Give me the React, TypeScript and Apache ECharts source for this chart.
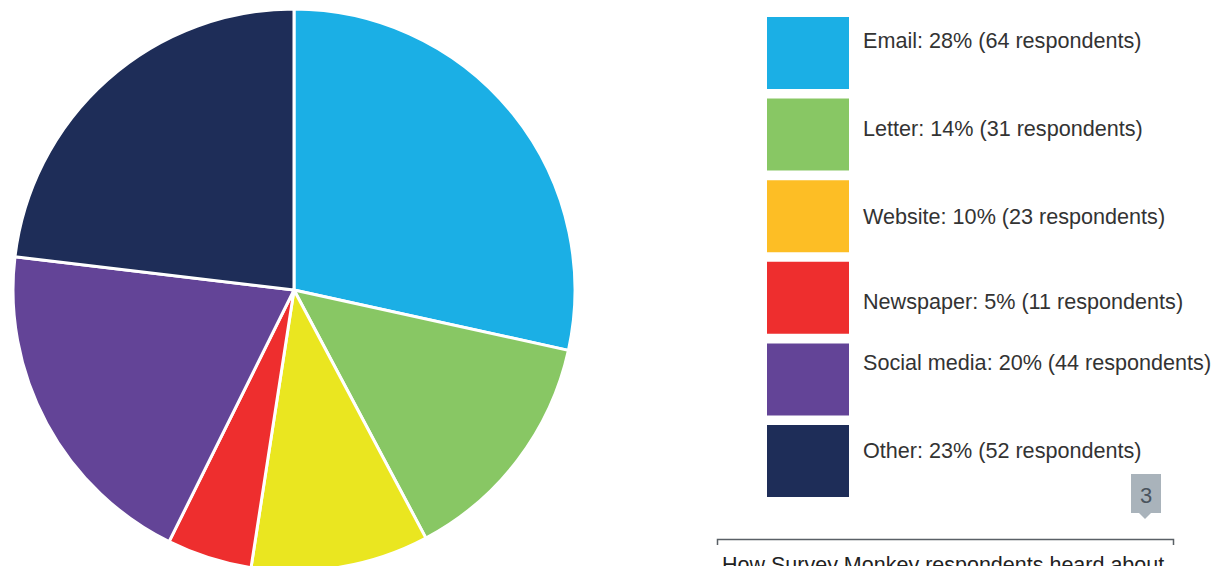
import React, { useEffect, useRef } from "react";
import * as echarts from "echarts";

const categories = ["Email", "Letter", "Website", "Newspaper", "Social media", "Other"];
const respondents = [64, 31, 23, 11, 44, 52];
const percents = [28, 14, 10, 5, 20, 23];
const sliceColors = ["#1BAFE5", "#88C764", "#EAE620", "#EE2E2E", "#634497", "#1E2D58"];
const legendColors = ["#1BAFE5", "#88C764", "#FDBE25", "#EE2E2E", "#634497", "#1E2D58"];
// vertical text shift (px, negative = up) of each legend label, as drawn in the reference
const labelShift = [-13, -6, 0, 4, -17, -11];
const badgeLabel = "3";
const captionText = "How Survey Monkey respondents heard about";

export default function App() {
  const ref = useRef<HTMLDivElement>(null);
  useEffect(() => {
    if (!ref.current) return;
    const chart = echarts.init(ref.current, undefined, { renderer: "svg" });
    const font = "'Liberation Sans', Arial, sans-serif";
    const data = categories.map((c, i) => ({
      name: c,
      value: respondents[i],
      itemStyle: { color: sliceColors[i] },
    }));
    const legendData = categories.map((c, i) => {
      const s = labelShift[i];
      const lh = Math.max(2 * Math.abs(s), 1);
      return {
        name: c,
        itemStyle: { color: legendColors[i] },
        textStyle: s === 0 ? {} : { lineHeight: lh },
      };
    });
    chart.setOption({
      animation: false,
      legend: {
        orient: "vertical",
        left: 760,
        top: 10,
        itemWidth: 84,
        itemHeight: 74,
        itemGap: 5.6,
        selectedMode: false,
        icon: "rect",
        data: legendData,
        formatter: (name: string) => {
          const i = categories.indexOf(name);
          const t = `${name}: ${percents[i]}% (${respondents[i]} respondents)`;
          const s = labelShift[i];
          if (s < 0) return t + "\n ";
          if (s > 0) return " \n" + t;
          return t;
        },
        textStyle: { fontFamily: font, fontSize: 21.6, color: "#333333", padding: [0, 0, 0, 8] },
      },
      series: [
        {
          type: "pie",
          center: [294, 290],
          radius: 281,
          startAngle: 90,
          clockwise: true,
          label: { show: false },
          labelLine: { show: false },
          emphasis: { disabled: true },
          itemStyle: { borderColor: "#ffffff", borderWidth: 3 },
          data,
        },
      ],
      graphic: [
        {
          type: "rect",
          shape: { x: 1131, y: 474, width: 30, height: 39 },
          style: { fill: "#A9B3BB" },
        },
        {
          type: "polygon",
          shape: { points: [[1139, 513], [1151, 513], [1145, 519]] },
          style: { fill: "#A9B3BB" },
        },
        {
          type: "text",
          x: 1146,
          y: 495,
          style: {
            text: badgeLabel,
            fill: "#4A545E",
            font: `22px ${font}`,
            align: "center",
            verticalAlign: "middle",
          },
        },
        {
          type: "polyline",
          shape: { points: [[717.5, 545], [717.5, 539.5], [1173.5, 539.5], [1173.5, 545]] },
          style: { stroke: "#5A6066", lineWidth: 1.5, fill: "none" },
        },
        {
          type: "text",
          x: 722,
          y: 554,
          style: {
            text: captionText,
            fill: "#222222",
            font: `21.5px ${font}`,
            align: "left",
            verticalAlign: "top",
          },
        },
      ],
    });
    return () => chart.dispose();
  }, []);
  return (
    <div
      ref={ref}
      style={{ position: "fixed", left: 0, top: 0, width: 1231, height: 566, background: "#ffffff" }}
    />
  );
}
